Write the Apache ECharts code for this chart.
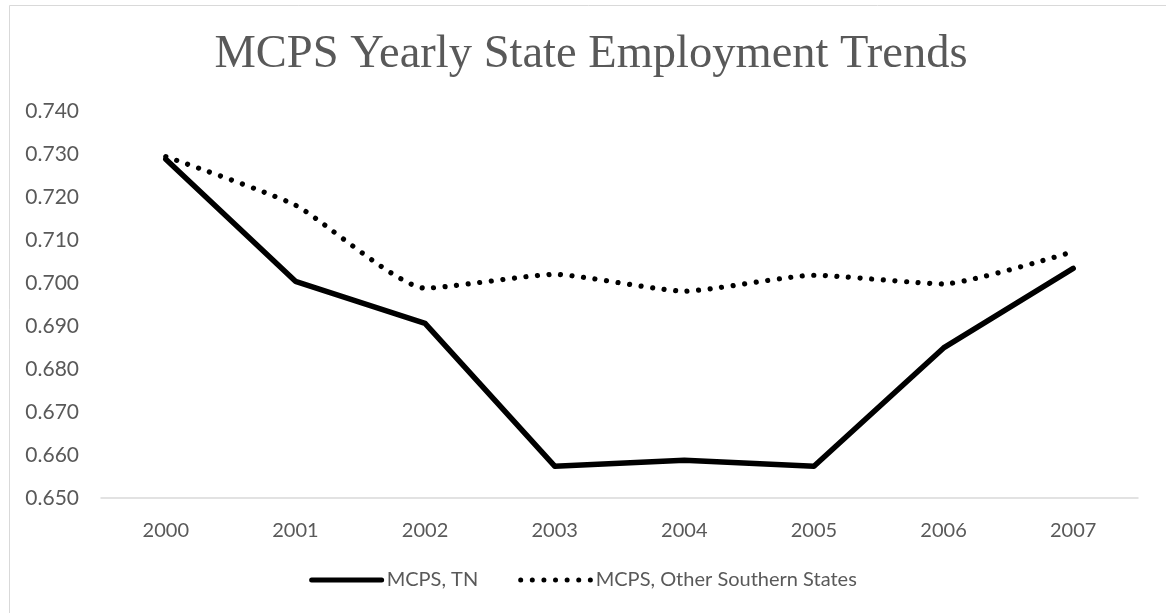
<!DOCTYPE html>
<html>
<head>
<meta charset="utf-8">
<script src="https://cdn.jsdelivr.net/npm/echarts@6/dist/echarts.min.js"></script>
<style>
html,body{margin:0;padding:0;background:#fff;}
#chart{width:1166px;height:613px;}
</style>
</head>
<body>
<div id="chart"></div>
<script>
const years = ['2000','2001','2002','2003','2004','2005','2006','2007'];
const tnValues = [0.7288, 0.7004, 0.6906, 0.6574, 0.6588, 0.6574, 0.6849, 0.7034];
const otherValues = [0.7294, 0.7181, 0.6988, 0.7020, 0.6981, 0.7018, 0.6998, 0.7073];
const seriesNames = ['MCPS, TN', 'MCPS, Other Southern States'];
const titleText = 'MCPS Yearly State Employment Trends';

const chart = echarts.init(document.getElementById('chart'), null, {renderer: 'canvas'});
chart.setOption({
  animation: false,
  backgroundColor: '#fff',
  graphic: [{
    type: 'rect',
    shape: {x: 9.5, y: 5.5, width: 1200, height: 700},
    style: {fill: 'none', stroke: '#d9d9d9', lineWidth: 1},
    silent: true, z: -1
  }],
  title: {
    text: titleText,
    left: 586,
    textAlign: 'center',
    top: 26,
    textStyle: {fontFamily: 'Liberation Serif', fontSize: 46.5, fontWeight: 'normal', color: '#595959'}
  },
  grid: {left: 101, right: 28, top: 111, bottom: 115, containLabel: false},
  legend: {
    data: seriesNames,
    bottom: 18,
    left: 'center',
    itemWidth: 70,
    itemHeight: 8,
    itemGap: 40,
    itemStyle: {opacity: 0, color: 'rgba(0,0,0,0)', borderWidth: 0},
    lineStyle: {width: 5, cap: 'round'},
    textStyle: {fontFamily: 'Lato', fontSize: 20, color: '#595959'}
  },
  xAxis: {
    type: 'category',
    data: years,
    boundaryGap: true,
    axisLine: {show: true, lineStyle: {color: '#d9d9d9', width: 1.5}},
    axisTick: {show: false},
    axisLabel: {fontFamily: 'Lato', fontSize: 20, color: '#595959', margin: 23},
    splitLine: {show: false}
  },
  yAxis: {
    type: 'value',
    min: 0.65, max: 0.74, interval: 0.01,
    axisLine: {show: false},
    axisTick: {show: false},
    splitLine: {show: false},
    axisLabel: {fontFamily: 'Lato', fontSize: 21, color: '#595959', margin: 22,
      formatter: v => v.toFixed(3)}
  },
  series: [
    {
      name: seriesNames[0], type: 'line', data: tnValues,
      symbol: 'none', smooth: false,
      lineStyle: {color: '#000', width: 5.5, cap: 'round', join: 'round'},
      itemStyle: {color: '#000'}
    },
    {
      name: seriesNames[1], type: 'line', data: otherValues,
      symbol: 'none', smooth: 0.18,
      lineStyle: {color: '#000', width: 5.2, type: [0.01, 11.6], cap: 'round'},
      itemStyle: {color: '#000'}
    }
  ]
});
</script>
</body>
</html>
